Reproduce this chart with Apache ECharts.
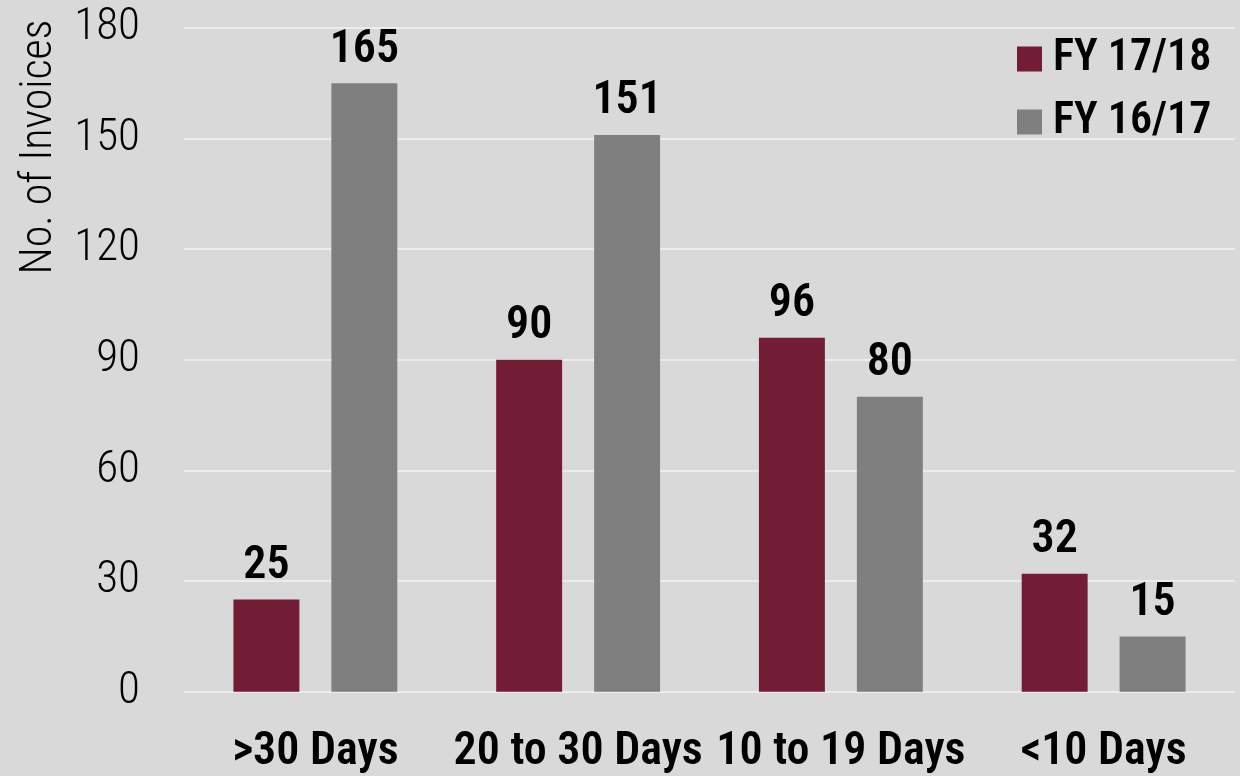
<!DOCTYPE html>
<html>
<head>
<meta charset="utf-8">
<script src="https://cdn.jsdelivr.net/npm/echarts@6/dist/echarts.min.js"></script>
<style>
html,body{margin:0;padding:0;background:#d9d9d9;}
#c{width:1240px;height:776px;}
</style>
</head>
<body>
<div id="c"></div>
<script>
var categories = ['>30 Days', '20 to 30 Days', '10 to 19 Days', '<10 Days'];
var fy1718 = [25, 90, 96, 32];
var fy1617 = [165, 151, 80, 15];
var seriesNames = ['FY 17/18', 'FY 16/17'];
var yTicks = {min: 0, max: 180, interval: 30};
var yTitle = 'No. of Invoices';

var FONT = '"Roboto Condensed", Roboto, "Liberation Sans", sans-serif';
var BOLD = 600;
var chart = echarts.init(document.getElementById('c'), null, {renderer: 'canvas'});
chart.setOption({
  backgroundColor: '#d9d9d9',
  animation: false,
  grid: {left: 184, right: 5, top: 28, bottom: 84.3, containLabel: false},
  legend: {
    orient: 'vertical',
    left: 1012,
    top: 31,
    itemWidth: 25,
    itemHeight: 25,
    itemGap: 17,
    icon: 'rect',
    data: seriesNames,
    textStyle: {fontFamily: FONT, fontSize: 44, fontWeight: BOLD, color: '#000', lineHeight: 46, padding: [0, 0, 0, 6]}
  },
  graphic: [{
    type: 'text',
    x: 40, y: 147,
    rotation: Math.PI / 2,
    style: {text: yTitle, fontFamily: FONT, fontSize: 44, fontWeight: 300, fill: '#000', align: 'center', verticalAlign: 'middle'}
  }],
  xAxis: {
    type: 'category',
    data: categories,
    axisLine: {show: false},
    axisTick: {show: false},
    axisLabel: {fontFamily: FONT, fontSize: 46, fontWeight: BOLD, color: '#000', margin: 38, interval: 0}
  },
  yAxis: {
    type: 'value',
    min: yTicks.min, max: yTicks.max, interval: yTicks.interval,
    axisLine: {show: false},
    axisTick: {show: false},
    splitLine: {lineStyle: {color: '#ececec', width: 2}},
    axisLabel: {fontFamily: FONT, fontSize: 45, fontWeight: 300, color: '#000', margin: 44}
  },
  series: [{
    name: seriesNames[0],
    type: 'bar',
    data: fy1718,
    barWidth: '25.1%',
    barGap: '48.5%',
    itemStyle: {color: '#721c36'},
    label: {show: true, position: 'top', distance: 10, fontFamily: FONT, fontSize: 46, fontWeight: BOLD, color: '#000'}
  }, {
    name: seriesNames[1],
    type: 'bar',
    data: fy1617,
    barWidth: '25.1%',
    barGap: '48.5%',
    itemStyle: {color: '#7f7f7f'},
    label: {show: true, position: 'top', distance: 10, fontFamily: FONT, fontSize: 46, fontWeight: BOLD, color: '#000'}
  }]
});
</script>
</body>
</html>
